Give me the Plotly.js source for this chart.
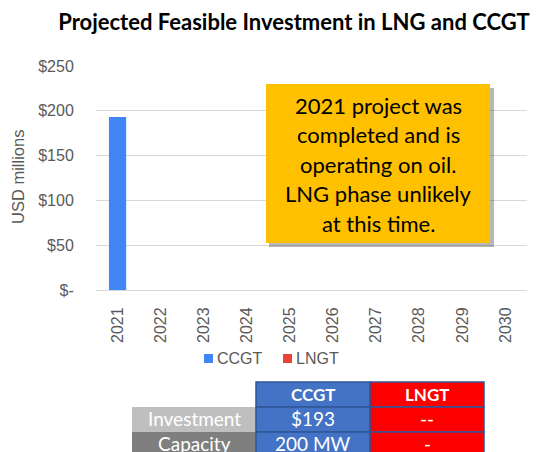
<!DOCTYPE html>
<html>
<head>
<meta charset="utf-8">
<script src="https://cdn.plot.ly/plotly-3.0.1.min.js"></script>
<style>html,body{margin:0;padding:0;background:#fff;}#chart{width:536px;height:452px;}</style>
</head>
<body>
<div id="chart"></div>
<script>
// ---- data ----
var years = ['2021','2022','2023','2024','2025','2026','2027','2028','2029','2030'];
var ccgtValues = [193, 0, 0, 0, 0, 0, 0, 0, 0, 0];
var lngtValues = [0, 0, 0, 0, 0, 0, 0, 0, 0, 0];
var seriesNames = ['CCGT', 'LNGT'];
var yTickVals = [0, 50, 100, 150, 200, 250];
var yTickText = ['$-', '$50', '$100', '$150', '$200', '$250'];
var noteLines = ['2021 project was', 'completed and is', 'operating on oil.', 'LNG phase unlikely', 'at this time.'];
var tableHeaders = ['CCGT', 'LNGT'];
var tableRowLabels = ['Investment', 'Capacity'];
var tableCCGT = ['$193', '200 MW'];
var tableLNGT = ['--', '-'];

// ---- layout helpers (pixel -> paper) ----
var L = 96, R = 9, T = 66, B = 162, W = 536, H = 452;
var PW = W - L - R, PH = H - T - B;
function px(x){ return (x - L) / PW; }
function py(y){ return (H - B - y) / PH; }

var blue = '#4285f4', red = '#ea4335';
var shapes = [], annotations = [];

// note box with shadow
shapes.push({type:'rect', xref:'paper', yref:'paper', x0:px(269), x1:px(494), y0:py(88), y1:py(247), fillcolor:'rgba(0,0,0,0.28)', line:{width:0}, layer:'above'});
shapes.push({type:'rect', xref:'paper', yref:'paper', x0:px(266), x1:px(490), y0:py(84), y1:py(243), fillcolor:'#ffc000', line:{width:0}, layer:'above'});
noteLines.forEach(function(t, i){
  annotations.push({xref:'paper', yref:'paper', x:px(378), y:py(105 + i*29.5), text:t, showarrow:false, xanchor:'center', yanchor:'middle', font:{family:'Lato', size:22, color:'#000'}});
});

// y axis title
annotations.push({xref:'paper', yref:'paper', x:px(18), y:py(177), text:'USD millions', textangle:-90, showarrow:false, xanchor:'center', yanchor:'middle', font:{family:'Liberation Sans, Arial', size:16.5, color:'#595959'}});

// legend
var legX = [204, 283];
seriesNames.forEach(function(n, i){
  var c = i === 0 ? blue : red;
  shapes.push({type:'rect', xref:'paper', yref:'paper', x0:px(legX[i]), x1:px(legX[i]+9), y0:py(354), y1:py(363), fillcolor:c, line:{width:0}});
  annotations.push({xref:'paper', yref:'paper', x:px(legX[i]+11), y:py(358), text:n, showarrow:false, xanchor:'left', yanchor:'middle', font:{family:'Liberation Sans, Arial', size:16, color:'#595959'}});
});

// table
var colX = [132, 256, 370, 484];
var rowY = [382, 407, 432, 457];
var border = '#2f5597';
var headerFill = ['#4472c4', '#ff0000'];
var labelFill = ['#bfbfbf', '#7f7f7f'];
tableHeaders.forEach(function(h, j){
  shapes.push({type:'rect', xref:'paper', yref:'paper', x0:px(colX[j+1]), x1:px(colX[j+2]), y0:py(rowY[0]), y1:py(rowY[1]), fillcolor:headerFill[j], line:{color:border, width:1.5}});
  annotations.push({xref:'paper', yref:'paper', x:px((colX[j+1]+colX[j+2])/2), y:py((rowY[0]+rowY[1])/2), text:'<b>'+h+'</b>', showarrow:false, xanchor:'center', yanchor:'middle', font:{family:'Lato', size:17, color:'#fff'}});
});
tableRowLabels.forEach(function(lab, i){
  shapes.push({type:'rect', xref:'paper', yref:'paper', x0:px(colX[0]), x1:px(colX[1]), y0:py(rowY[i+1]), y1:py(rowY[i+2]), fillcolor:labelFill[i], line:{width:0}});
  annotations.push({xref:'paper', yref:'paper', x:px((colX[0]+colX[1])/2), y:py((rowY[i+1]+rowY[i+2])/2 - 1), text:lab, showarrow:false, xanchor:'center', yanchor:'middle', font:{family:'Lato', size:19, color:'#fff'}});
  var vals = [tableCCGT[i], tableLNGT[i]];
  vals.forEach(function(v, j){
    shapes.push({type:'rect', xref:'paper', yref:'paper', x0:px(colX[j+1]), x1:px(colX[j+2]), y0:py(rowY[i+1]), y1:py(rowY[i+2]), fillcolor:headerFill[j], line:{color:border, width:1.5}});
    annotations.push({xref:'paper', yref:'paper', x:px((colX[j+1]+colX[j+2])/2), y:py((rowY[i+1]+rowY[i+2])/2 - 1), text:v, showarrow:false, xanchor:'center', yanchor:'middle', font:{family:'Lato', size:19, color:'#fff'}});
  });
});

var traces = [
  {type:'bar', name:seriesNames[0], x:years, y:ccgtValues, marker:{color:blue}, width:0.4, hoverinfo:'skip'},
  {type:'bar', name:seriesNames[1], x:years, y:lngtValues, marker:{color:red}, width:0.4, hoverinfo:'skip'}
];

var layout = {
  width:W, height:H,
  margin:{l:L, r:R, t:T, b:B, pad:0},
  paper_bgcolor:'#fff', plot_bgcolor:'#fff',
  showlegend:false,
  barmode:'overlay',
  title:{text:'<b>Projected Feasible Investment in LNG and CCGT</b>', x:294/W, xanchor:'center', xref:'container', y:1-22/H, yanchor:'middle', yref:'container', font:{family:'Lato', size:22, color:'#000'}},
  xaxis:{type:'category', tickangle:-90, showgrid:false, showline:true, linecolor:'#d9d9d9', linewidth:1, ticks:'outside', ticklen:10, tickcolor:'rgba(0,0,0,0)', tickfont:{family:'Liberation Sans, Arial', size:16, color:'#595959'}, fixedrange:true},
  yaxis:{range:[0,250], tickvals:yTickVals, ticktext:yTickText, showgrid:true, gridcolor:'#d9d9d9', gridwidth:1, zeroline:false, showline:false, ticks:'outside', ticklen:18, tickcolor:'rgba(0,0,0,0)', tickfont:{family:'Liberation Sans, Arial', size:16, color:'#595959'}, fixedrange:true},
  shapes:shapes,
  annotations:annotations
};

Plotly.newPlot('chart', traces, layout, {displayModeBar:false, staticPlot:true});
</script>
</body>
</html>
